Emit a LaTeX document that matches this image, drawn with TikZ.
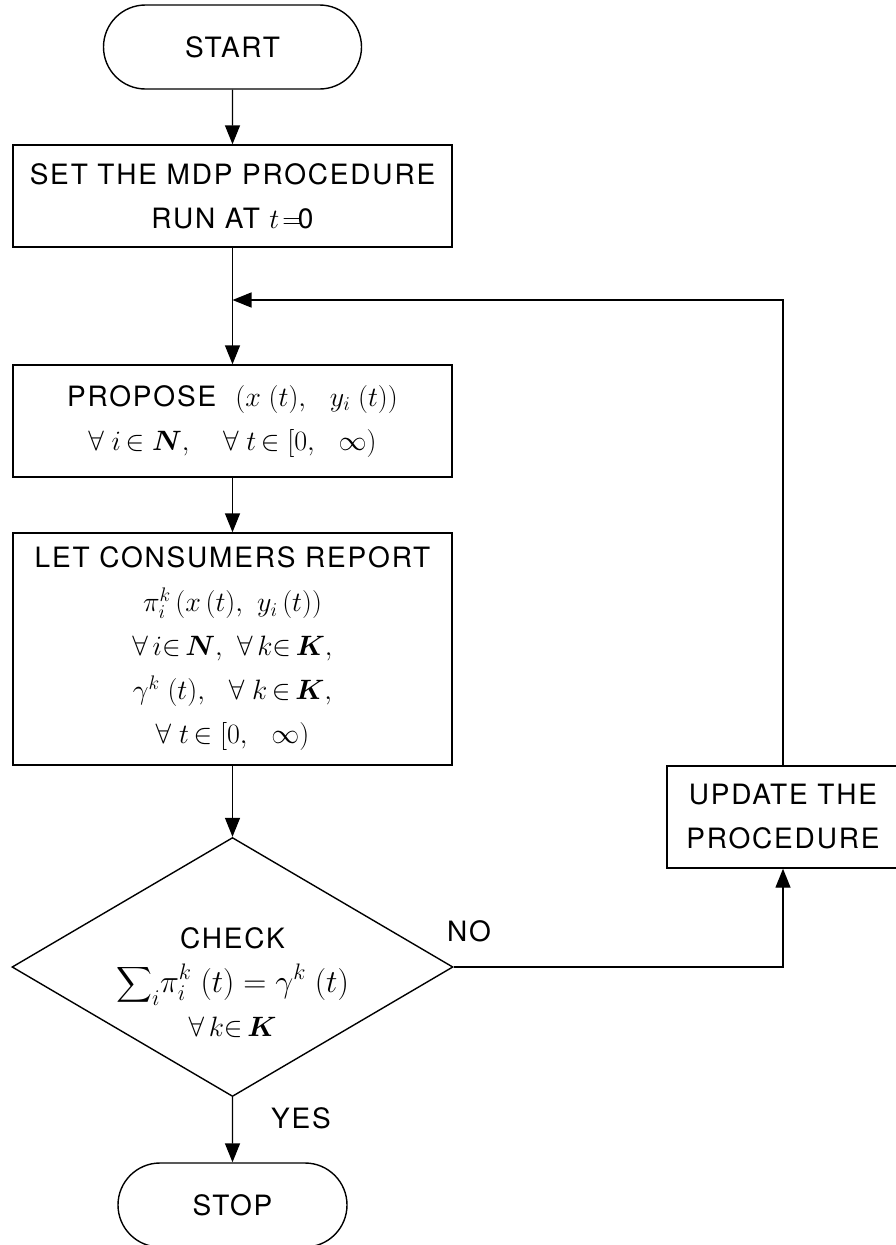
\RequirePackage{fix-cm}
\documentclass[tikz,border=0pt]{standalone}
\usepackage{amsmath,bm}
\usepackage[no-math]{fontspec}
\setmainfont{TeX Gyre Heros}[LetterSpace=6.5]
\usetikzlibrary{shapes.geometric,shapes.misc,arrows.meta}
\begin{document}
\begin{tikzpicture}[x=1pt,y=-1pt,
  every node/.style={font=\fontsize{28}{44}\selectfont, inner sep=0pt},
  proc/.style={draw, rectangle, line width=1.4pt, align=center},
  term/.style={draw, rounded rectangle, line width=1.4pt, align=center},
  dec/.style={draw, diamond, line width=1.4pt},
  conn/.style={line width=1.4pt, -{Triangle[length=19pt,width=15pt]}},
  plainline/.style={line width=1.4pt}]
\useasboundingbox (0,0) rectangle (896,1245);
\node[term, minimum width=258pt, minimum height=84pt] (start) at (232.5,47) {START};
\node[proc, minimum width=439pt, minimum height=102pt] (set) at (232.5,196) {SET THE MDP PROCEDURE\\RUN AT $t\!=\!$0};
\node[proc, minimum width=439pt, minimum height=112pt] (prop) at (232.5,421) {PROPOSE\ \ $(x\;(t),\ \ y_i\;(t))$\\$\forall\;i\,{\in}\;\bm{N},\ \ \ \forall\;t\,{\in}\;[0,\ \ \infty)$};
\node[proc, minimum width=439pt, minimum height=232pt] (rep) at (232.5,649) {LET CONSUMERS REPORT\\$\pi_i^k\,(x\,(t),\ y_i\,(t))$\\$\forall\,i{\in}\,\bm{N},\ \forall\,k{\in}\,\bm{K},$\\$\gamma^k\;(t),\ \ \forall\;k\,{\in}\,\bm{K},$\\$\forall\;t\,{\in}\;[0,\ \ \infty)$};
\node[dec, minimum width=441pt, minimum height=259pt] (chk) at (232.5,967) {};
\node[align=center] (chktxt) at (232.5,983) {CHECK\\{\fontsize{32}{44}\selectfont$\displaystyle\sum\nolimits_i\!\pi_i^k\;(t)=\gamma^k\;(t)$}\\$\forall\,k{\in}\,\bm{K}$};
\node[proc, minimum width=232pt, minimum height=102pt] (upd) at (783,817) {UPDATE THE\\PROCEDURE};
\node[term, minimum width=229pt, minimum height=84pt] (stop) at (232.5,1205) {STOP};
\coordinate (join) at (232.5,300);
\coordinate (nocorner) at (783,967);
\coordinate (loopcorner) at (783,300);
\draw[conn] (start) -- (set);
\draw[plainline] (set) -- (join);
\draw[conn] (join) -- (prop);
\draw[conn] (prop) -- (rep);
\draw[conn] (rep) -- (chk);
\draw[conn] (chk.east) -- (nocorner) -- (upd);
\draw[conn] (upd) -- (loopcorner) -- (join);
\draw[conn] (chk.south) -- (stop);
\node (no) at (469,931.5) {NO};
\node (yes) at (301,1118) {YES};
\end{tikzpicture}
\end{document}
